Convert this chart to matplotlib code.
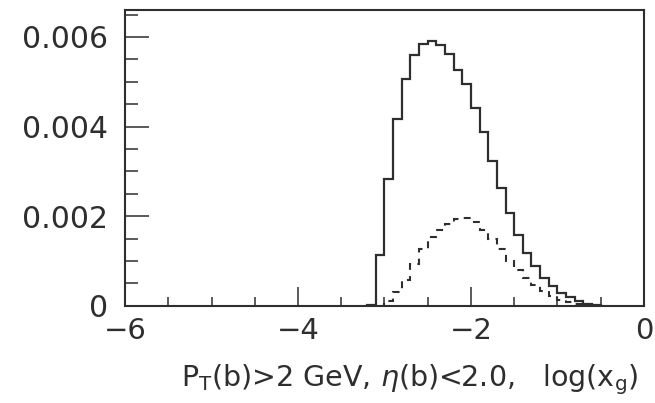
import matplotlib
matplotlib.use("Agg")
import matplotlib.pyplot as plt
from matplotlib.ticker import MultipleLocator, FixedLocator

# bin edges in log(x_g)
log_xg_edges = [-3.2, -3.1, -3.0, -2.9, -2.8, -2.7, -2.6, -2.5, -2.4, -2.3, -2.2,
                -2.1, -2.0, -1.9, -1.8, -1.7, -1.6, -1.5, -1.4, -1.3, -1.2,
                -1.1, -1.0, -0.9, -0.8, -0.7, -0.6, -0.5]

# solid histogram
solid_vals = [0.00003, 0.00113, 0.00284, 0.00416, 0.00506, 0.00560, 0.00584,
              0.00590, 0.00582, 0.00562, 0.00527, 0.00496, 0.00441, 0.00388,
              0.00324, 0.00264, 0.00208, 0.00158, 0.00118, 0.00088, 0.00062,
              0.00044, 0.00029, 0.00020, 0.00011, 0.00005, 0.00003]

# dashed histogram
dashed_vals = [0.0, 0.0, 0.00010, 0.00030, 0.00057, 0.00093, 0.00128,
               0.00153, 0.00169, 0.00183, 0.00194, 0.00195, 0.00188, 0.00170,
               0.00149, 0.00128, 0.00100, 0.00080, 0.00062, 0.00046, 0.00033,
               0.00022, 0.00014, 0.00009, 0.00005, 0.000025, 0.00001]

x_major = [-6, -4, -2, 0]
x_labels = ["\u22126", "\u22124", "\u22122", "0"]
y_major = [0, 0.002, 0.004, 0.006]
y_labels = ["0", "0.002", "0.004", "0.006"]

xlabel_text = r"P$_{\mathrm{T}}$(b)>2 GeV, $\eta$(b)<2.0,   log(x$_{\mathrm{g}}$)"

plt.rcParams['font.family'] = ['DejaVu Sans']
plt.rcParams['lines.scale_dashes'] = False

col = '#2e2e2e'
fig = plt.figure(figsize=(6.55, 4.03), dpi=100)
ax = fig.add_axes([0.191, 0.241, 0.792, 0.734])

ax.stairs(solid_vals, log_xg_edges, color=col, lw=1.6)
ax.stairs(dashed_vals, log_xg_edges, color=col, lw=1.5, linestyle=(0, (5, 4.5)))

ax.set_xlim(-6, 0)
ax.set_ylim(0, 0.0066)

ax.xaxis.set_major_locator(FixedLocator(x_major))
ax.set_xticklabels(x_labels)
ax.xaxis.set_minor_locator(MultipleLocator(0.5))
ax.yaxis.set_major_locator(FixedLocator(y_major))
ax.set_yticklabels(y_labels)
ax.yaxis.set_minor_locator(MultipleLocator(0.0005))

ax.tick_params(axis='x', which='major', direction='in', length=14, width=1.1,
               color=col, labelsize=21, labelcolor=col, pad=8)
ax.tick_params(axis='x', which='minor', direction='in', length=6.5, width=1.1, color=col)
ax.tick_params(axis='y', which='major', direction='in', length=17, width=1.1,
               color=col, labelsize=21.5, labelcolor=col, pad=12)
ax.tick_params(axis='y', which='minor', direction='in', length=9, width=1.1, color=col)

for s in ax.spines.values():
    s.set_linewidth(1.5)
    s.set_color(col)

fig.text(0.975, 0.057, xlabel_text, ha='right', va='center', fontsize=20.5, color=col)

fig.savefig("out.png", dpi=100)
